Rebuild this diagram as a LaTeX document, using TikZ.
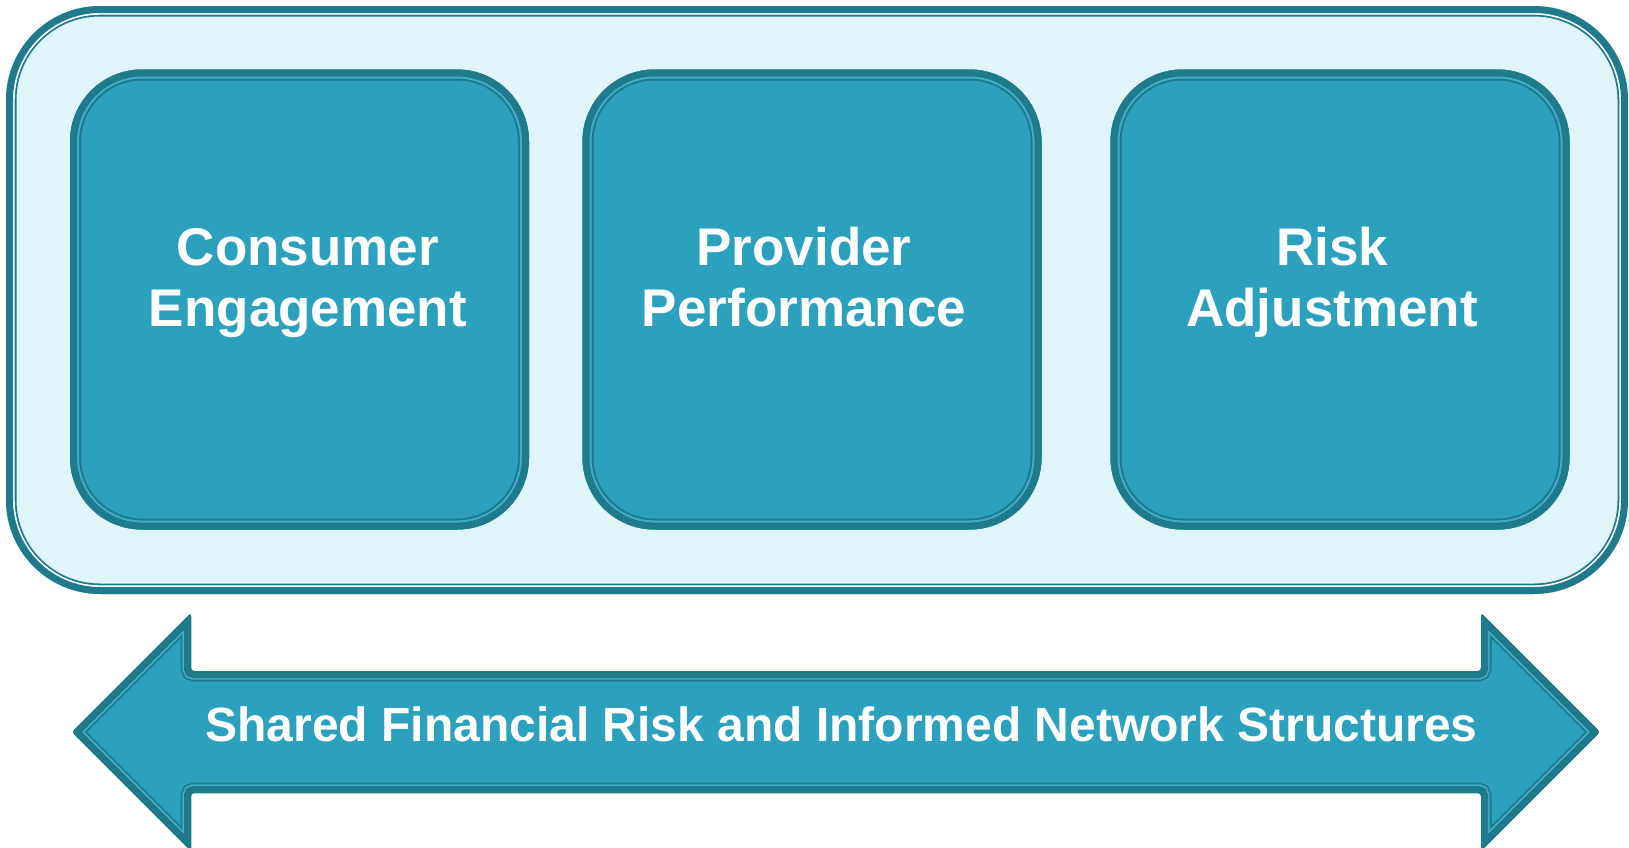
\documentclass[tikz,border=0pt]{standalone}
\usepackage{fontspec}
\setmainfont{Liberation Sans}
\definecolor{darkteal}{HTML}{1F7A8C}
\definecolor{boxteal}{HTML}{2CA1BE}
\definecolor{lineteal}{HTML}{3FAECA}
\definecolor{paleteal}{HTML}{DFF5F9}
\tikzset{
  tealbox/.style={rectangle, rounded corners=72pt, minimum width=459pt, minimum height=460pt,
    inner sep=0pt, outer sep=0pt, fill=boxteal,
    path picture={
      \draw[darkteal, line width=22pt, rounded corners=72pt] (path picture bounding box.south west) rectangle (path picture bounding box.north east);
      \draw[lineteal, line width=18pt, rounded corners=72pt] (path picture bounding box.south west) rectangle (path picture bounding box.north east);
      \draw[darkteal, line width=14pt, rounded corners=72pt] (path picture bounding box.south west) rectangle (path picture bounding box.north east);
    }},
  outerbox/.style={rectangle, rounded corners=94pt, minimum width=1622pt, minimum height=588pt,
    inner sep=0pt, outer sep=0pt, fill=paleteal,
    path picture={
      \draw[darkteal, line width=21pt, rounded corners=94pt] (path picture bounding box.south west) rectangle (path picture bounding box.north east);
      \draw[white, line width=17.4pt, rounded corners=94pt] (path picture bounding box.south west) rectangle (path picture bounding box.north east);
      \draw[darkteal, line width=14pt, rounded corners=94pt] (path picture bounding box.south west) rectangle (path picture bounding box.north east);
    }},
  boxtext/.style={anchor=base, text=white, inner sep=0pt,
    font=\bfseries\fontsize{53}{61}\selectfont},
  arrowtext/.style={anchor=base, text=white, inner sep=0pt,
    font=\bfseries\fontsize{48}{56}\selectfont},
}
\begin{document}
\begin{tikzpicture}[x=1pt, y=-1pt]
\useasboundingbox (0,0) rectangle (1629,847);

% outer frame
\node[outerbox] (frame) at (817,300) {};

% three boxes
\node[tealbox] (consumer) at (299.5,299.5) {};
\node[tealbox] (provider) at (812,299.5) {};
\node[tealbox] (risk) at (1340,299.5) {};

\node[boxtext] (t1a) at (308,265) {Consumer};
\node[boxtext] (t1b) at (308,326) {Engagement};
\node[boxtext] (t2a) at (804,265) {Provider};
\node[boxtext] (t2b) at (804,326) {Performance};
\node[boxtext] (t3a) at (1332,265) {Risk};
\node[boxtext] (t3b) at (1332,326) {Adjustment};

% double arrow
\def\arrowpath{[rounded corners=3pt] (72,732) -- (191,613) -- (191,671) -- (1481,671) -- (1481,613) -- (1600,732) -- (1481,851) -- (1481,793) -- (191,793) -- (191,851) -- cycle}
\begin{scope}
  \clip \arrowpath;
  \fill[boxteal] \arrowpath;
  \draw[darkteal, line width=21pt] \arrowpath;
  \draw[lineteal, line width=17.4pt] \arrowpath;
  \draw[darkteal, line width=14pt] \arrowpath;
\end{scope}
\node[arrowtext] (shared) at (841.5,741) {Shared Financial Risk and Informed Network Structures};
\end{tikzpicture}
\end{document}
